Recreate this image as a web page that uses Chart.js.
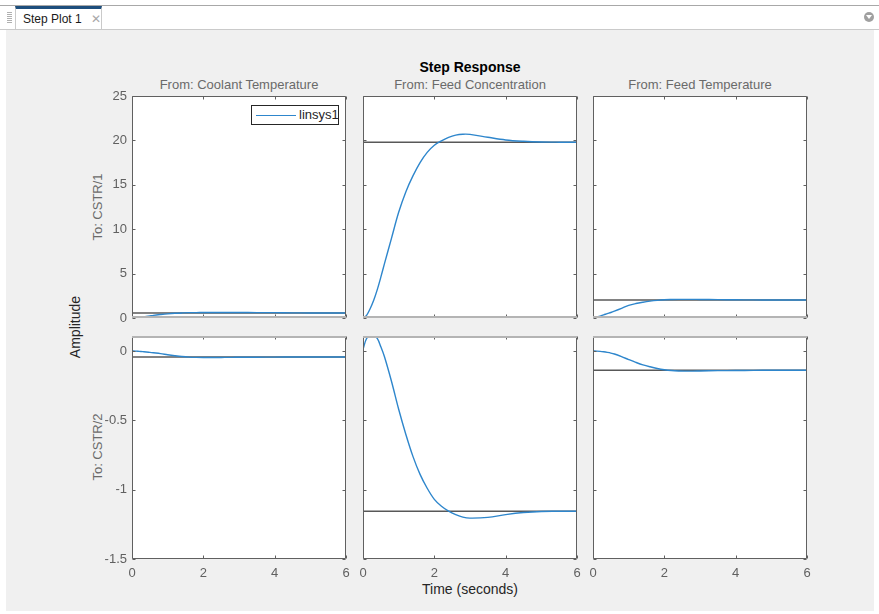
<!DOCTYPE html>
<html>
<head>
<meta charset="utf-8">
<script src="https://cdn.jsdelivr.net/npm/chart.js@4/dist/chart.umd.min.js"></script>
<style>
  body { margin: 0; width: 879px; height: 614px; background: #fff; position: relative; overflow: hidden;
         font-family: "Liberation Sans", Arial, sans-serif; }
  .abs { position: absolute; }
  .topline { left: 0; top: 5px; width: 879px; height: 1px; background: #a8a8a8; }
  .tabline { left: 0; top: 29px; width: 879px; height: 1px; background: #cacaca; }
  .panel { left: 6px; top: 30px; width: 868px; height: 581px; background: #f0f0f0; }
  .tab { left: 15px; top: 6px; width: 85px; height: 20px; background: #fff; border-top: 3px solid #1d4e7c;
         border-left: 1px solid #cacaca; border-right: 1px solid #cacaca; }
  .tab span { position: absolute; left: 7px; top: 3px; font-size: 12px; color: #1a1a1a; }
  .tab b { position: absolute; left: 75px; top: 3px; font-size: 12px; font-weight: normal; color: #a8a8a8; }
  .grip { left: 7px; top: 12px; width: 5px; height: 11px;
          background: repeating-linear-gradient(#b0b0b0 0 1px, transparent 1px 2px); }
  .menu { left: 864px; top: 12px; width: 10px; height: 10px; border-radius: 50%; background: #a0a0a0; }
  .menu i { position: absolute; left: 2px; top: 3px; border-left: 3px solid transparent;
            border-right: 3px solid transparent; border-top: 4px solid #fff; }
  .lbl { position: absolute; white-space: nowrap; transform: translate(-50%, -50%); }
  .from { font-size: 13px; color: #6a6a6a; }
  .rot { transform: translate(-50%, -50%) rotate(-90deg); }
  canvas { position: absolute; }
  .legend { left: 251px; top: 105px; width: 86px; height: 18px; background: #fff; border: 1px solid #262626; }
  .legend i { position: absolute; left: 4px; top: 9px; width: 40px; height: 1px; background: #2e86cc; }
  .legend span { position: absolute; left: 47px; top: 1px; font-size: 13px; color: #262626; }
</style>
</head>
<body>
<div class="abs topline"></div>
<div class="abs tabline"></div>
<div class="abs panel"></div>
<div class="abs grip"></div>
<div class="abs tab"><span>Step Plot 1</span><b>✕</b></div>
<div class="abs menu"><i></i></div>

<div class="lbl" style="left:470px; top:67px; font-size:14px; font-weight:bold; color:#000;">Step Response</div>
<div class="lbl from" style="left:239px; top:84px;">From: Coolant Temperature</div>
<div class="lbl from" style="left:470px; top:84px;">From: Feed Concentration</div>
<div class="lbl from" style="left:700px; top:84px;">From: Feed Temperature</div>
<div class="lbl from rot" style="left:97px; top:207px;">To: CSTR/1</div>
<div class="lbl from rot" style="left:97px; top:447px;">To: CSTR/2</div>
<div class="lbl rot" style="left:75px; top:327px; font-size:14px; color:#262626;">Amplitude</div>
<div class="lbl" style="left:470px; top:589px; font-size:14px; color:#262626;">Time (seconds)</div>

<canvas id="c00"></canvas><canvas id="c01"></canvas><canvas id="c02"></canvas>
<canvas id="c10"></canvas><canvas id="c11"></canvas><canvas id="c12"></canvas>

<div class="abs legend"><i></i><span>linsys1</span></div>

<script>
// tick labels
const xTicks = [0, 2, 4, 6];
const yTicksTop = [0, 5, 10, 15, 20, 25];
const yTicksBottom = [-1.5, -1, -0.5, 0];
const yRangeTop = [0, 25];
const yRangeBottom = [-1.5, 0.108];

// time samples (seconds)
const t = [0, 0.1, 0.2, 0.3, 0.4, 0.5, 0.6, 0.8, 1.0, 1.2, 1.4, 1.6, 1.8, 2.0, 2.2, 2.4, 2.6, 2.8, 3.0, 3.5, 4.0, 4.5, 5.0, 5.5, 6.0];

// To: CSTR/1
const coolantToCstr1 = [0, 0.03, 0.07, 0.12, 0.18, 0.24, 0.3, 0.39, 0.47, 0.53, 0.57, 0.6, 0.61, 0.62, 0.62, 0.62, 0.62, 0.62, 0.615, 0.61, 0.6, 0.58, 0.57, 0.56, 0.56];
const feedConcToCstr1 = [0, 0.3, 1.05, 2.0, 3.2, 4.6, 6.1, 9.0, 11.9, 14.2, 16.0, 17.5, 18.65, 19.45, 19.95, 20.35, 20.6, 20.7, 20.68, 20.35, 20.05, 19.9, 19.82, 19.8, 19.8];
const feedTempToCstr1 = [0, 0.1, 0.22, 0.35, 0.49, 0.62, 0.77, 1.09, 1.42, 1.63, 1.78, 1.9, 1.99, 2.05, 2.08, 2.1, 2.1, 2.1, 2.09, 2.07, 2.05, 2.04, 2.03, 2.03, 2.03];
// To: CSTR/2
const coolantToCstr2 = [0, -0.001, -0.003, -0.005, -0.007, -0.01, -0.013, -0.019, -0.027, -0.034, -0.04, -0.044, -0.046, -0.047, -0.047, -0.047, -0.046, -0.046, -0.045, -0.045, -0.044, -0.043, -0.043, -0.043, -0.043];
const feedConcToCstr2 = [0.01, 0.09, 0.108, 0.11, 0.09, 0.03, -0.04, -0.22, -0.42, -0.6, -0.76, -0.89, -0.99, -1.07, -1.12, -1.155, -1.18, -1.198, -1.205, -1.2, -1.18, -1.165, -1.157, -1.156, -1.156];
const feedTempToCstr2 = [0, -0.001, -0.003, -0.006, -0.01, -0.015, -0.022, -0.041, -0.062, -0.082, -0.1, -0.114, -0.126, -0.135, -0.141, -0.144, -0.145, -0.145, -0.144, -0.142, -0.141, -0.14, -0.139, -0.139, -0.139];

// steady state values (gray lines)
const steadyTop = [0.55, 19.8, 2.03];
const steadyBottom = [-0.043, -1.156, -0.139];

const curves = [[coolantToCstr1, feedConcToCstr1, feedTempToCstr1], [coolantToCstr2, feedConcToCstr2, feedTempToCstr2]];
const steady = [steadyTop, steadyBottom];

// layout of the axes boxes
const colLeft = [132, 363, 593];
const boxW = 214;
const rowTop = [96, 336];
const boxH = [222, 223];
const P = 12, YW = 50, XH = 30;
const FONT = "'Liberation Sans', Arial, sans-serif";

// white axes background, frame and inward tick marks like matlab
const boxPlugin = {
    id: 'matlabBox',
    beforeDraw(chart) {
        const a = chart.chartArea, ctx = chart.ctx;
        ctx.save();
        ctx.fillStyle = '#fff';
        ctx.fillRect(a.left, a.top, a.right - a.left, a.bottom - a.top);
        ctx.restore();
    },
    afterDraw(chart, args, opts) {
        const a = chart.chartArea, ctx = chart.ctx;
        const l = Math.round(a.left) + 0.5, r = Math.round(a.right) - 0.5;
        const tp = Math.round(a.top) + 0.5, b = Math.round(a.bottom) - 0.5;
        ctx.save();
        ctx.strokeStyle = '#606060';
        ctx.lineWidth = 1;
        ctx.beginPath();
        chart.scales.x.ticks.forEach(tk => {
            const x = Math.round(chart.scales.x.getPixelForValue(tk.value)) + 0.5;
            ctx.moveTo(x, tp); ctx.lineTo(x, tp + 3);
            ctx.moveTo(x, b); ctx.lineTo(x, b - 3);
        });
        chart.scales.y.ticks.forEach(tk => {
            const y = Math.round(chart.scales.y.getPixelForValue(tk.value)) + 0.5;
            ctx.moveTo(l, y); ctx.lineTo(l + 3, y);
            ctx.moveTo(r, y); ctx.lineTo(r - 3, y);
        });
        // left, right and the dark horizontal edge
        ctx.moveTo(l, tp); ctx.lineTo(l, b);
        ctx.moveTo(r, tp); ctx.lineTo(r, b);
        if (opts.light === 'bottom') { ctx.moveTo(l, tp); ctx.lineTo(r, tp); }
        else { ctx.moveTo(l, b); ctx.lineTo(r, b); }
        ctx.stroke();
        // the edge facing the other row is a lighter, thicker line
        ctx.strokeStyle = '#b4b4b4';
        ctx.lineWidth = 2;
        ctx.beginPath();
        const ey = opts.light === 'bottom' ? Math.round(a.bottom) - 1 : Math.round(a.top) + 1;
        ctx.moveTo(l - 0.5, ey); ctx.lineTo(r + 0.5, ey);
        ctx.stroke();
        ctx.restore();
    }
};

function makeChart(row, col) {
    const canvas = document.getElementById('c' + row + col);
    const yw = col === 0 ? YW : 0;
    const xh = row === 1 ? XH : 0;
    const w = P * 2 + yw + boxW, h = P * 2 + boxH[row] + xh;
    canvas.width = w; canvas.height = h;
    canvas.style.left = (colLeft[col] - P - yw) + 'px';
    canvas.style.top = (rowTop[row] - P) + 'px';

    const ss = steady[row][col];
    const yTicks = row === 0 ? yTicksTop : yTicksBottom;
    const yRange = row === 0 ? yRangeTop : yRangeBottom;

    return new Chart(canvas, {
        type: 'scatter',
        data: {
            datasets: [
                {
                    data: t.map((x, i) => ({ x: x, y: curves[row][col][i] })),
                    showLine: true,
                    borderColor: '#2e86cc',
                    borderWidth: 1.4,
                    pointRadius: 0,
                    tension: 0.35
                },
                {
                    data: [{ x: xTicks[0], y: ss }, { x: xTicks[xTicks.length - 1], y: ss }],
                    showLine: true,
                    borderColor: 'rgba(70,70,70,0.9)',
                    borderWidth: 1.5,
                    pointRadius: 0
                }
            ]
        },
        options: {
            responsive: false,
            animation: false,
            devicePixelRatio: 1,
            layout: { padding: P },
            plugins: {
                legend: { display: false },
                tooltip: { enabled: false },
                matlabBox: { light: row === 0 ? 'bottom' : 'top' }
            },
            scales: {
                x: {
                    type: 'linear',
                    min: xTicks[0],
                    max: xTicks[xTicks.length - 1],
                    afterBuildTicks: s => { s.ticks = xTicks.map(v => ({ value: v })); },
                    afterFit: s => { s.height = xh; s.paddingLeft = 0; s.paddingRight = 0; },
                    grid: { display: false, drawTicks: false },
                    border: { display: false },
                    ticks: {
                        display: row === 1,
                        padding: 7,
                        autoSkip: false,
                        maxRotation: 0,
                        color: '#606060',
                        font: { family: FONT, size: 13 },
                        callback: v => String(v)
                    }
                },
                y: {
                    type: 'linear',
                    min: yRange[0],
                    max: yRange[1],
                    afterBuildTicks: s => { s.ticks = yTicks.map(v => ({ value: v })); },
                    afterFit: s => { s.width = yw; s.paddingTop = 0; s.paddingBottom = 0; },
                    grid: { display: false, drawTicks: false },
                    border: { display: false },
                    ticks: {
                        display: col === 0,
                        padding: 5,
                        autoSkip: false,
                        color: '#606060',
                        font: { family: FONT, size: 13 },
                        callback: v => String(v)
                    }
                }
            }
        },
        plugins: [boxPlugin]
    });
}

for (let r = 0; r < 2; r++) {
    for (let c = 0; c < 3; c++) {
        makeChart(r, c);
    }
}
</script>
</body>
</html>
